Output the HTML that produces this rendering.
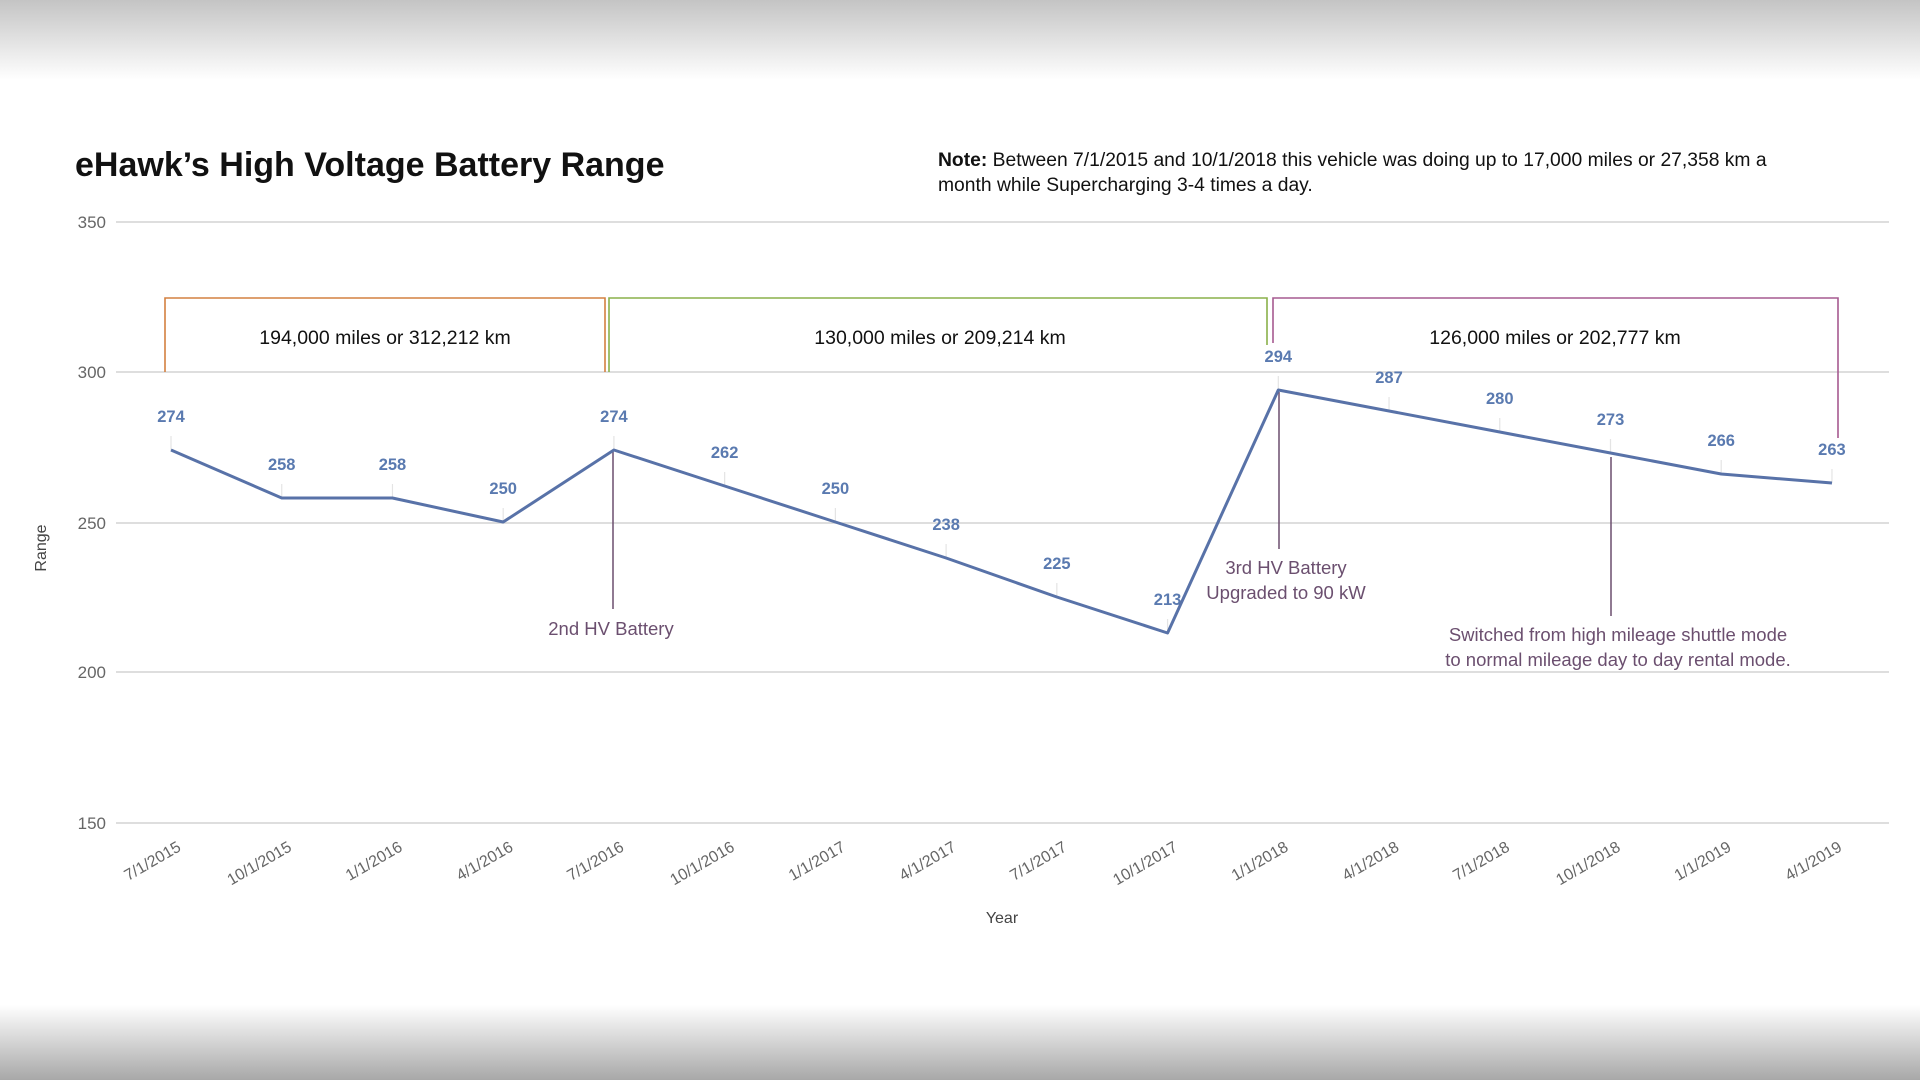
<!DOCTYPE html>
<html><head><meta charset="utf-8"><style>
html,body{margin:0;padding:0;width:1920px;height:1080px;overflow:hidden;background:#fff;font-family:"Liberation Sans",sans-serif;}
</style></head><body>
<svg width="1920" height="1080" xmlns="http://www.w3.org/2000/svg" font-family="Liberation Sans, sans-serif">
<defs>
<linearGradient id="gt" x1="0" y1="0" x2="0" y2="1"><stop offset="0" stop-color="#c4c4c4"/><stop offset="1" stop-color="#ffffff"/></linearGradient>
<linearGradient id="gb" x1="0" y1="0" x2="0" y2="1"><stop offset="0" stop-color="#ffffff"/><stop offset="1" stop-color="#a8a8a8"/></linearGradient>
</defs>
<rect x="0" y="0" width="1920" height="80" fill="url(#gt)"/>
<rect x="0" y="1005" width="1920" height="75" fill="url(#gb)"/>
<text x="75" y="176" font-size="34" font-weight="bold" fill="#111">eHawk’s High Voltage Battery Range</text>
<text x="938" y="166" font-size="19.3" fill="#111"><tspan font-weight="bold">Note:</tspan> Between 7/1/2015 and 10/1/2018 this vehicle was doing up to 17,000 miles or 27,358 km a</text>
<text x="938" y="191" font-size="19.3" fill="#111">month while Supercharging 3-4 times a day.</text>
<g stroke="#d4d4d4" stroke-width="1.5">
<line x1="116" y1="222" x2="1889" y2="222"/><line x1="116" y1="372" x2="1889" y2="372"/><line x1="116" y1="523" x2="1889" y2="523"/><line x1="116" y1="672" x2="1889" y2="672"/><line x1="116" y1="823" x2="1889" y2="823"/>
</g>
<g font-size="17" fill="#666" text-anchor="end">
<text x="106" y="228">350</text><text x="106" y="378">300</text><text x="106" y="529">250</text><text x="106" y="678">200</text><text x="106" y="829">150</text>
</g>
<text transform="translate(46,548) rotate(-90)" font-size="16" fill="#444" text-anchor="middle">Range</text>
<text x="1002" y="923" font-size="16" fill="#444" text-anchor="middle">Year</text>
<g fill="none" stroke-width="1.6">
<polyline points="165,372 165,298 605,298 605,372" stroke="#d48040"/>
<polyline points="609,372 609,298 1267,298 1267,345" stroke="#8ab04a"/>
<polyline points="1273,343 1273,298 1838,298 1838,438" stroke="#a65a90"/>
</g>
<g font-size="19.5" fill="#111" text-anchor="middle">
<text x="385" y="344">194,000 miles or 312,212 km</text>
<text x="940" y="344">130,000 miles or 209,214 km</text>
<text x="1555" y="344">126,000 miles or 202,777 km</text>
</g>
<g stroke="#6b4f6f" stroke-width="1.5">
<line x1="613" y1="452" x2="613" y2="609"/>
<line x1="1279" y1="392" x2="1279" y2="549"/>
<line x1="1611" y1="457" x2="1611" y2="616"/>
</g>
<g font-size="18.5" fill="#6b4f6f" text-anchor="middle">
<text x="611" y="635">2nd HV Battery</text>
<text x="1286" y="574">3rd HV Battery</text><text x="1286" y="599">Upgraded to 90 kW</text>
<text x="1618" y="641">Switched from high mileage shuttle mode</text><text x="1618" y="666">to normal mileage day to day rental mode.</text>
</g>
<g id="chart"></g>
</svg>
<script>
var d=[274,258,258,250,274,262,250,238,225,213,294,287,280,273,266,263];
var lab=["7/1/2015","10/1/2015","1/1/2016","4/1/2016","7/1/2016","10/1/2016","1/1/2017","4/1/2017","7/1/2017","10/1/2017","1/1/2018","4/1/2018","7/1/2018","10/1/2018","1/1/2019","4/1/2019"];
function X(i){return 171+i*110.73;} function Y(v){return 222+(350-v)*3.0;}
var s="";
for(var i=0;i<d.length;i++){var x=X(i),y=Y(d[i]);
s+='<line x1="'+x+'" y1="'+(y-14)+'" x2="'+x+'" y2="'+y+'" stroke="#e4e4e4" stroke-width="1.2"/>';
s+='<text x="'+x+'" y="'+(y-28)+'" font-size="16.5" font-weight="bold" fill="#5a7ab0" text-anchor="middle">'+d[i]+'</text>';
s+='<text transform="translate('+(x+11)+',850) rotate(-30)" font-size="16" fill="#666" text-anchor="end">'+lab[i]+'</text>';}
var pts=[];for(var i=0;i<d.length;i++)pts.push(X(i)+','+Y(d[i]));
s+='<polyline fill="none" stroke="#5872a8" stroke-width="3" stroke-linejoin="round" points="'+pts.join(' ')+'"/>';
document.getElementById("chart").innerHTML=s;
</script>
</body></html>
